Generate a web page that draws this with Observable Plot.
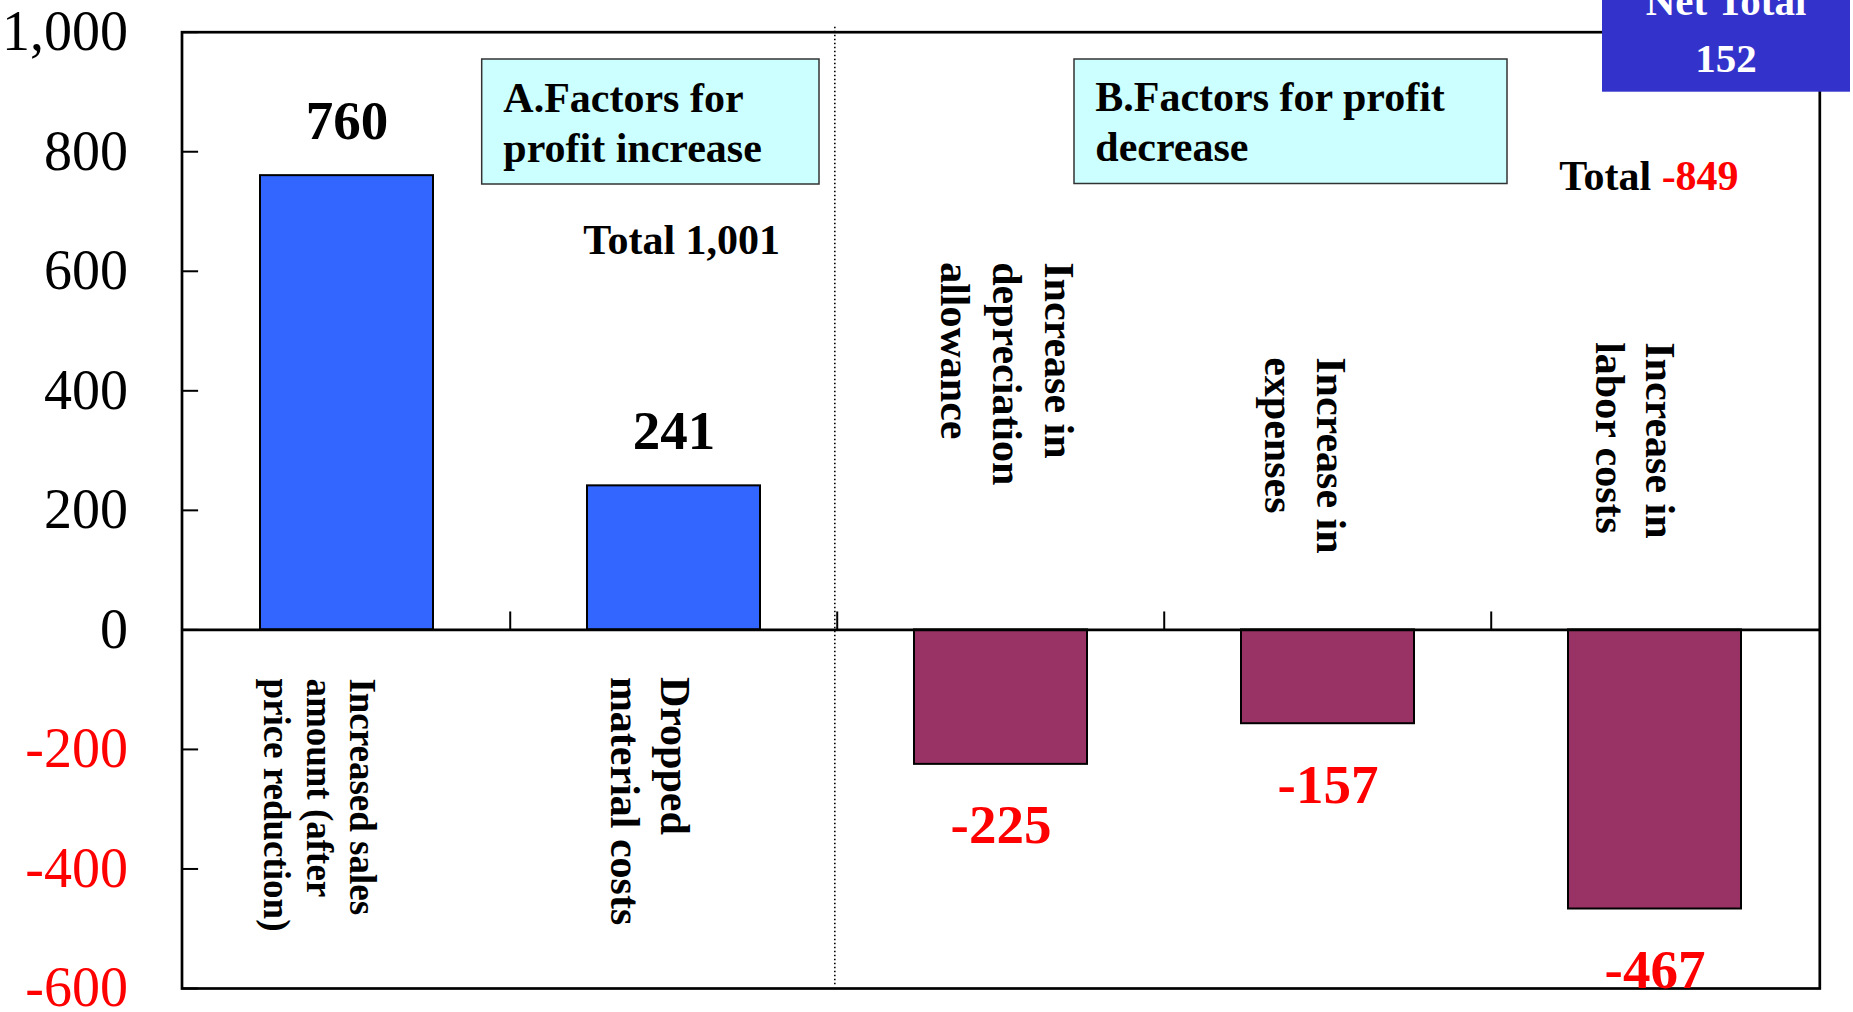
<!DOCTYPE html>
<html>
<head>
<meta charset="utf-8">
<script src="https://cdn.jsdelivr.net/npm/d3@7"></script>
<script src="https://cdn.jsdelivr.net/npm/@observablehq/plot@0.6"></script>
<style>
  html, body { margin: 0; padding: 0; background: #fff; overflow: hidden; }
  #chart svg { display: block; }
  #chart text { white-space: pre; }
</style>
</head>
<body>
<div id="chart"></div>
<script>
// ---------------- data ----------------
const categories = [
  "Increased sales amount (after price reduction)",
  "Dropped material costs",
  "Increase in depreciation allowance",
  "Increase in expenses",
  "Increase in labor costs"
];
const categoryLines = [
  ["Increased sales", "amount (after", "price reduction)"],
  ["Dropped", "material costs"],
  ["Increase in", "depreciation", "allowance"],
  ["Increase in", "expenses"],
  ["Increase in", "labor costs"]
];
const values = [760, 241, -225, -157, -467];
const yTicks = [-600, -400, -200, 0, 200, 400, 600, 800, 1000];
const groupTitles = ["A.Factors for\nprofit increase", "B.Factors for profit\ndecrease"];
const groupTotals = [1001, -849];
const netTotalLabel = "Net Total";
const netTotal = 152;

// ---------------- layout / style ----------------
const W = 1853, H = 1012;
const M = {top: 31.7, right: 33.7, bottom: 24, left: 181.5};
const plotW = W - M.left - M.right;
const step = plotW / categories.length;
const serif = "'Liberation Serif', 'Times New Roman', serif";
const fmt = d3.formatLocale({decimal: ".", thousands: ",", grouping: [3], currency: ["$", ""], minus: "-"}).format(",");
const BLUE = "#3366FF", MAROON = "#993366";

// screen offsets for each rotated category label (text boxes placed by hand in the original)
const labelLayout = [
  {dx: 33.5, dy: 48.5, fontSize: 37, spacing: 43},
  {dx: 22.6, dy: 47, fontSize: 42, spacing: 50},
  {dx: 81.4, dy: -367.7, fontSize: 42, spacing: 52},
  {dx: 25.8, dy: -272.7, fontSize: 42, spacing: 52},
  {dx: 26.5, dy: -287.7, fontSize: 42, spacing: 50}
];

const rows = categories.map((c, i) => ({category: c, label: categoryLines[i].join("\n"), value: values[i]}));

const labelMarks = rows.map((r, i) => Plot.text([r], {
  x: "category", y: 0, text: "label",
  rotate: 90, textAnchor: "start", lineAnchor: "top",
  dx: labelLayout[i].dx, dy: labelLayout[i].dy,
  fontSize: labelLayout[i].fontSize,
  lineHeight: labelLayout[i].spacing / labelLayout[i].fontSize,
  fontWeight: "bold", fontFamily: serif, fill: "black"
}));

function annotations() {
  const g = d3.create("svg:g").attr("font-family", serif).attr("font-weight", "bold")
    .attr("text-anchor", "start");
  const boxes = [
    {x: 481.7, y: 59, w: 337.3, h: 125, tx: 503.3, ty: 111.5, lines: groupTitles[0].split("\n")},
    {x: 1074, y: 59, w: 433, h: 124.5, tx: 1095.3, ty: 111, lines: groupTitles[1].split("\n")}
  ];
  for (const b of boxes) {
    g.append("rect").attr("x", b.x).attr("y", b.y).attr("width", b.w).attr("height", b.h)
      .attr("fill", "#CCFFFF").attr("stroke", "#333").attr("stroke-width", 1.5);
    b.lines.forEach((l, k) => {
      g.append("text").attr("x", b.tx).attr("y", b.ty + k * 50).attr("font-size", 42)
        .attr("text-anchor", "start").attr("fill", "black").text(l);
    });
  }
  // totals
  g.append("text").attr("x", 583.3).attr("y", 254).attr("font-size", 42).attr("fill", "black")
    .attr("text-anchor", "start").text("Total " + fmt(groupTotals[0]));
  const t2 = g.append("text").attr("x", 1559.3).attr("y", 190).attr("font-size", 42)
    .attr("text-anchor", "start");
  t2.append("tspan").attr("fill", "black").text("Total ");
  t2.append("tspan").attr("fill", "red").text(fmt(groupTotals[1]));
  // net total box
  g.append("rect").attr("x", 1602).attr("y", -30).attr("width", 248).attr("height", 121.7)
    .attr("fill", "#3333CC");
  g.append("text").attr("x", 1726).attr("y", 15).attr("font-size", 41).attr("fill", "white")
    .attr("text-anchor", "middle").text(netTotalLabel);
  g.append("text").attr("x", 1726).attr("y", 71.7).attr("font-size", 41).attr("fill", "white")
    .attr("text-anchor", "middle").text(String(netTotal));
  return g.node();
}

const chart = Plot.plot({
  width: W, height: H,
  marginTop: M.top, marginRight: M.right, marginBottom: M.bottom, marginLeft: M.left,
  style: {fontFamily: serif, background: "white"},
  x: {type: "band", domain: categories, paddingInner: 0.47, paddingOuter: 0.235, axis: null},
  y: {domain: [-600, 1000], nice: false},
  marks: [
    Plot.barY(rows.filter(d => d.value >= 0), {x: "category", y: "value", fill: BLUE, stroke: "black", strokeWidth: 2}),
    Plot.barY(rows.filter(d => d.value < 0), {x: "category", y: "value", fill: MAROON, stroke: "black", strokeWidth: 2}),
    Plot.ruleY([0], {stroke: "black", strokeWidth: 2.7}),
    Plot.ruleY(yTicks, {stroke: "black", strokeWidth: 2, insetRight: plotW - 16.6}),
    Plot.ruleX(categories.slice(1), {y1: 0, y2: 30, dx: -step / 2, stroke: "black", strokeWidth: 2}),
    Plot.ruleX([categories[2]], {dx: -step / 2 - 2.4, stroke: "black", strokeWidth: 1.6, strokeDasharray: "1.6,2.4", insetTop: -5, insetBottom: 3}),
    Plot.frame({stroke: "black", strokeWidth: 2.7}),
    Plot.axisY(yTicks.filter(t => t >= 0), {anchor: "left", tickSize: 0, tickPadding: 54, tickFormat: fmt,
      fontSize: 56, fontFamily: serif, fill: "black", label: null}),
    Plot.axisY(yTicks.filter(t => t < 0), {anchor: "left", tickSize: 0, tickPadding: 54, tickFormat: fmt,
      fontSize: 56, fontFamily: serif, fill: "red", label: null}),
    Plot.text(rows.filter(d => d.value >= 0), {x: "category", y: "value", text: d => fmt(d.value),
      lineAnchor: "bottom", dy: -37, fontSize: 55, fontWeight: "bold", fontFamily: serif, fill: "black"}),
    Plot.text(rows.filter(d => d.value < 0), {x: "category", y: "value", text: d => fmt(d.value),
      lineAnchor: "bottom", dy: 79, fontSize: 55, fontWeight: "bold", fontFamily: serif, fill: "red"}),
    ...labelMarks,
    annotations
  ]
});
document.getElementById("chart").appendChild(chart);
</script>
</body>
</html>
